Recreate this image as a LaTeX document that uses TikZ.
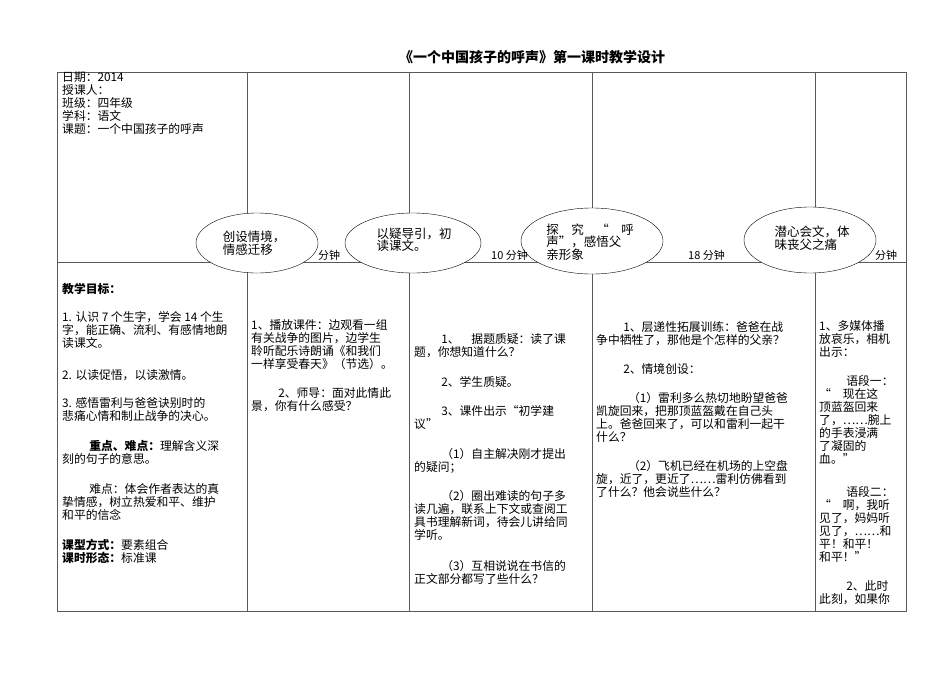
\documentclass[tikz,border=0pt]{standalone}
\usepackage{fontspec}
\setmainfont{Noto Sans CJK SC}
\begin{document}
\begin{tikzpicture}[x=1pt,y=-1pt,
  txt/.style={anchor=north west,inner sep=0pt,align=left,font=\fontsize{11.8}{13}\selectfont},
  ell/.style={draw,ellipse,thin},
  lab/.style={inner sep=0pt,font=\fontsize{12.5}{12.5}\selectfont}]
\useasboundingbox (0,0) rectangle (950,672);
\node[inner sep=0pt,font=\fontsize{14}{16}\selectfont\bfseries] (title) at (532,57) {《一个中国孩子的呼声》第一课时教学设计};
\draw[gray!70!black,thin] (57,72) rectangle (906,611);
\draw[gray!70!black,thin] (57,262) -- (906,262);
\foreach \x in {247,409,592,815} \draw[gray!70!black,thin] (\x,72) -- (\x,611);
\node[txt] (info) at (62,72) {日期：2014\\授课人：\\班级：四年级\\学科：语文\\课题：一个中国孩子的呼声};
% ellipses
\draw[fill=white] (257,243) ellipse (61 and 30);
\node[lab,align=left] (e1) at (254,243) {创设情境，\\情感迁移};
\draw[fill=white] (413,243) ellipse (68 and 30);
\node[lab,align=left] (e2) at (414,240) {以疑导引，初\\读课文。};
\draw[fill=white] (592,241) ellipse (71 and 33);
\node[lab,align=left] (e3) at (590,242) {探\quad 究\quad “\quad 呼\\声”，感悟父\\亲形象};
\draw[fill=white] (810,240) ellipse (66 and 33);
\node[lab,align=left] (e4) at (812,238) {潜心会文，体\\味丧父之痛};
\node[lab,anchor=west,font=\fontsize{11}{12}\selectfont] (m1) at (318,255) {分钟};
\node[lab,anchor=west,font=\fontsize{11}{12}\selectfont] (m2) at (491,255) {10 分钟};
\node[lab,anchor=west,font=\fontsize{11}{12}\selectfont] (m3) at (688,255) {18 分钟};
\node[lab,anchor=west,font=\fontsize{11}{12}\selectfont] (m4) at (875,255) {分钟};
% column 1
\node[txt] (c1a) at (62,283) {\textbf{教学目标：}};
\node[txt] (c1b) at (62,311) {1. 认识 7 个生字，学会 14 个生\\字，能正确、流利、有感情地朗\\读课文。};
\node[txt] (c1c) at (62,369) {2. 以读促悟，以读激情。};
\node[txt] (c1d) at (62,397) {3. 感悟雷利与爸爸诀别时的\\悲痛心情和制止战争的决心。};
\node[txt] (c1e) at (62,440) {\hspace*{2.3em}\textbf{重点、难点：}理解含义深\\刻的句子的意思。};
\node[txt] (c1f) at (62,483) {\hspace*{2.3em}难点：体会作者表达的真\\挚情感，树立热爱和平、维护\\和平的信念};
\node[txt] (c1g) at (62,539) {\textbf{课型方式：}要素组合\\\textbf{课时形态：}标准课};
% column 2
\node[txt] (c2a) at (251,319) {1、播放课件：边观看一组\\有关战争的图片，边学生\\聆听配乐诗朗诵《和我们\\一样享受春天》（节选）。};
\node[txt] (c2b) at (251,387) {\hspace*{2.3em}2、师导：面对此情此\\景，你有什么感受？};
% column 3
\node[txt] (c3a) at (414,333) {\hspace*{2.3em}1、\quad 据题质疑：读了课\\题，你想知道什么？};
\node[txt] (c3b) at (414,376) {\hspace*{2.3em}2、学生质疑。};
\node[txt] (c3c) at (414,405) {\hspace*{2.3em}3、课件出示“初学建\\议”};
\node[txt] (c3d) at (414,448) {\hspace*{2.3em}（1）自主解决刚才提出\\的疑问；};
\node[txt] (c3e) at (414,490) {\hspace*{2.3em}（2）圈出难读的句子多\\读几遍，联系上下文或查阅工\\具书理解新词，待会儿讲给同\\学听。};
\node[txt] (c3f) at (414,560) {\hspace*{2.3em}（3）互相说说在书信的\\正文部分都写了些什么？};
% column 4
\node[txt] (c4a) at (596,321) {\hspace*{2.3em}1、层递性拓展训练：爸爸在战\\争中牺牲了，那他是个怎样的父亲？};
\node[txt] (c4b) at (596,363) {\hspace*{2.3em}2、情境创设：};
\node[txt] (c4c) at (596,392) {\hspace*{2.7em}（1）雷利多么热切地盼望爸爸\\凯旋回来，把那顶蓝盔戴在自己头\\上。爸爸回来了，可以和雷利一起干\\什么？};
\node[txt] (c4d) at (596,460) {\hspace*{2.7em}（2）飞机已经在机场的上空盘\\旋，近了，更近了……雷利仿佛看到\\了什么？他会说些什么？};
% column 5
\node[txt] (c5a) at (819,320) {1、多媒体播\\放哀乐，相机\\出示：};
\node[txt] (c5b) at (819,375) {\hspace*{2.3em}语段一：\\“\quad 现在这\\顶蓝盔回来\\了，……腕上\\的手表浸满\\了凝固的\\血。”};
\node[txt] (c5c) at (819,486) {\hspace*{2.3em}语段二：\\“\quad 啊，我听\\见了，妈妈听\\见了，……和\\平！和平！\\和平！”};
\node[txt] (c5d) at (819,580) {\hspace*{2.3em}2、此时\\此刻，如果你};
\end{tikzpicture}
\end{document}
